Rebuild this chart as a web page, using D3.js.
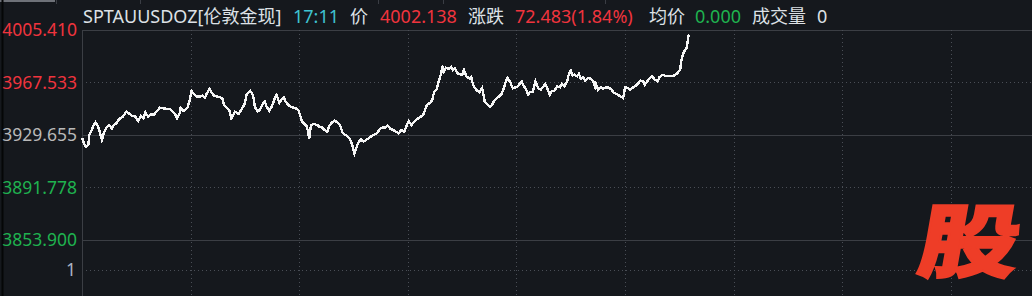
<!DOCTYPE html>
<html lang="zh">
<head>
    <meta charset="UTF-8">
    <title>SPTAUUSDOZ 伦敦金现 分时图</title>
    <script src="https://d3js.org/d3.v7.min.js"></script>
    <style>
        html, body { margin: 0; padding: 0; background: #15181d; overflow: hidden; }
        svg { display: block; font-family: "Noto Sans", "Noto Sans CJK SC", sans-serif; }
        .grid-solid { stroke: #3b3e44; stroke-width: 1; shape-rendering: crispEdges; }
        .grid-dot { stroke: #4a4e56; stroke-width: 1; stroke-dasharray: 1,3; shape-rendering: crispEdges; }
        .axis path, .axis line { display: none; }
        .price-line { fill: none; stroke: #f6f6f6; stroke-width: 2.4; shape-rendering: crispEdges; }
    </style>
</head>
<body>
<svg width="1032" height="296"></svg>
<script>
// minutes after 06:00
const minutes = [
    0,2,4,7,8,11,12,15,17,19,
    22,24,27,30,33,35,38,41,45,49,
    51,55,59,62,65,68,70,73,76,79,
    83,86,90,94,97,100,103,105,108,109,
    112,115,117,119,121,124,127,130,133,136,
    138,141,143,146,150,152,155,157,160,163,
    165,167,169,173,177,180,182,186,189,191,
    194,197,200,202,204,207,210,213,215,218,
    220,223,225,228,232,236,239,241,243,245,
    248,250,251,253,256,260,262,265,268,271,
    273,276,279,283,285,288,291,294,296,298,
    301,303,305,308,311,315,319,322,326,329,
    332,335,338,341,344,348,350,353,356,359,
    361,364,367,370,373,377,379,381,385,387,
    389,392,394,397,398,400,402,405,408,410,
    412,415,418,420,422,425,428,430,431,433,
    436,439,442,443,445,448,451,453,456,459,
    462,464,466,468,470,473,476,478,481,484,
    486,488,490,493,495,498,500,501,504,507,
    509,512,514,517,519,522,525,528,530,533,
    536,538,540,542,544,547,549,551,554,556,
    559,562,565,567,568,570,573,576,579,582,
    585,588,592,595,598,599,600,603,606,609,
    611,614,617,620,622,625,627,630,633,636,
    638,641,644,648,651,655,658,661,662,664,
    666,668,669,670,671
];

const prices = [
    3927.71,3923.88,3921.21,3922.44,3929.66,3933.26,3935.64,3938.82,3936.87,3933.26,
    3926.05,3930.88,3934.92,3936.87,3934.49,3936.87,3938.10,3941.20,3942.86,3946.47,
    3945.74,3943.58,3942.86,3939.76,3943.58,3941.70,3946.03,3942.86,3944.59,3944.09,
    3946.97,3949.35,3948.92,3948.41,3948.41,3946.47,3944.59,3941.70,3945.31,3949.35,
    3946.97,3948.41,3950.07,3954.91,3961.40,3959.02,3957.29,3957.29,3958.01,3956.57,
    3959.74,3962.84,3960.46,3958.01,3957.29,3957.10,3956.13,3951.30,3949.35,3946.97,
    3941.70,3944.09,3946.47,3944.81,3948.92,3952.53,3959.24,3961.40,3958.51,3950.07,
    3946.47,3948.20,3952.53,3953.68,3950.07,3947.19,3950.58,3956.13,3958.51,3952.96,
    3954.91,3956.86,3953.68,3951.30,3949.64,3948.92,3947.69,3944.09,3939.25,3938.10,
    3936.15,3932.04,3926.55,3936.87,3937.59,3936.87,3935.64,3935.21,3933.26,3932.04,
    3936.15,3938.53,3939.97,3938.53,3936.87,3931.31,3929.66,3928.43,3926.55,3923.67,
    3916.45,3920.06,3923.67,3926.55,3924.82,3926.55,3928.43,3929.66,3930.88,3933.77,
    3935.21,3934.92,3936.37,3933.98,3933.26,3931.60,3930.88,3933.26,3932.04,3936.87,
    3939.76,3936.87,3939.25,3941.20,3942.14,3944.09,3947.69,3951.30,3952.96,3954.91,
    3960.46,3962.84,3968.11,3974.17,3979.65,3975.33,3978.21,3977.27,3978.93,3976.55,
    3977.78,3974.17,3973.45,3972.94,3976.55,3971.72,3970.56,3971.72,3968.61,3964.50,
    3962.12,3960.46,3963.35,3960.90,3953.68,3951.80,3950.07,3951.30,3954.91,3956.57,
    3958.01,3959.74,3963.35,3967.68,3971.00,3968.11,3963.35,3963.78,3964.50,3966.96,
    3968.11,3965.22,3963.35,3959.02,3960.46,3960.90,3965.73,3968.61,3963.35,3962.34,
    3964.07,3966.45,3963.57,3958.73,3961.18,3961.62,3964.79,3964.07,3966.45,3964.79,
    3968.40,3973.67,3976.05,3972.73,3973.16,3972.01,3973.67,3970.27,3971.28,3968.83,
    3970.78,3970.27,3968.40,3964.07,3966.45,3962.34,3964.07,3963.06,3964.07,3963.90,
    3962.34,3959.96,3958.73,3957.58,3956.35,3959.96,3964.07,3963.57,3962.34,3964.07,
    3964.79,3966.45,3968.83,3968.40,3965.95,3968.83,3970.27,3972.01,3969.55,3968.40,
    3971.28,3973.16,3972.44,3972.01,3972.20,3972.73,3974.39,3976.77,3982.83,3988.10,
    3990.48,3992.42,3996.03,4000.87,4002.138
];

const priceTicks = [4005.410, 3967.533, 3929.655, 3891.778, 3853.900];
const prevClose = 3929.655;
const volumeTicks = [1];
const timeTicks = [120, 240, 360, 480, 600, 720, 840, 960];

const symbol = 'SPTAUUSDOZ[伦敦金现]';
const lastTime = '17:11';
const lastPrice = 4002.138;
const change = 72.483;
const changePct = 1.84;
const avgPrice = 0.000;
const volume = 0;

const W = 1032, H = 296;
const plotLeft = 82, plotTop = 30, priceBottom = 240;

const svg = d3.select('svg');

// session 06:00 -> 05:00 next day, window only shows part of it
const x = d3.scaleLinear().domain([0, 1380]).range([plotLeft, plotLeft + 1380 * 108.6 / 120]);
const y = d3.scaleLinear().domain([3853.900, 4005.410]).range([priceBottom, plotTop]);
const yVol = d3.scaleLinear().domain([0, 1]).range([300, 270]);

// tab strip remnants at the very top
svg.append('rect').attr('x', 0).attr('y', 0).attr('width', 55).attr('height', 2).attr('fill', '#6e7178');
[56, 140, 378, 443, 605].forEach(px => {
    svg.append('rect').attr('x', px).attr('y', 0).attr('width', 1).attr('height', 4).attr('fill', '#3a3d44');
});
svg.append('line').attr('x1', 2.5).attr('x2', 2.5).attr('y1', 0).attr('y2', H)
    .attr('stroke', '#050607').attr('stroke-width', 2);

// horizontal grid
const solidTicks = [4005.410, prevClose, 3853.900];
svg.append('g').selectAll('line')
    .data(priceTicks)
    .enter().append('line')
    .attr('class', d => solidTicks.includes(d) ? 'grid-solid' : 'grid-dot')
    .attr('x1', plotLeft).attr('x2', W)
    .attr('y1', d => Math.round(y(d)) + 0.5)
    .attr('y2', d => Math.round(y(d)) + 0.5);

svg.append('g').selectAll('line')
    .data(volumeTicks)
    .enter().append('line')
    .attr('class', 'grid-dot')
    .attr('x1', plotLeft).attr('x2', W)
    .attr('y1', d => Math.round(yVol(d)) + 0.5)
    .attr('y2', d => Math.round(yVol(d)) + 0.5);

// vertical grid
svg.append('g').selectAll('line')
    .data(timeTicks.filter(t => x(t) < W))
    .enter().append('line')
    .attr('class', 'grid-dot')
    .attr('x1', d => Math.round(x(d)) + 0.5).attr('x2', d => Math.round(x(d)) + 0.5)
    .attr('y1', plotTop).attr('y2', H);

svg.append('line').attr('class', 'grid-solid')
    .attr('x1', plotLeft + 0.5).attr('x2', plotLeft + 0.5).attr('y1', plotTop).attr('y2', H);

// price axis labels
const priceColor = d => d > prevClose + 1e-6 ? '#f0343d' : (d < prevClose - 1e-6 ? '#1fb24f' : '#b9b9b9');
const yAxis = svg.append('g')
    .attr('class', 'axis')
    .attr('transform', `translate(${plotLeft},0)`)
    .call(d3.axisLeft(y).tickValues(priceTicks).tickFormat(d3.format('.3f')).tickSize(0).tickPadding(5));
yAxis.selectAll('text')
    .attr('fill', d => priceColor(d))
    .style('font-size', '17.5px')
    .style('font-family', '"Noto Sans", sans-serif');

const vAxis = svg.append('g')
    .attr('class', 'axis')
    .attr('transform', `translate(${plotLeft},0)`)
    .call(d3.axisLeft(yVol).tickValues(volumeTicks).tickFormat(d3.format('d')).tickSize(0).tickPadding(6));
vAxis.selectAll('text')
    .attr('fill', '#aab2c2')
    .style('font-size', '17.5px')
    .style('font-family', '"Noto Sans", sans-serif');

// intraday price line
const line = d3.line()
    .x(i => x(minutes[i]))
    .y(i => y(prices[i]));

svg.append('path')
    .attr('class', 'price-line')
    .attr('d', line(d3.range(minutes.length)));

// header
const headerItems = [
    { text: symbol, color: '#dde1e6', x: 83 },
    { text: lastTime, color: '#3fc3d1', x: 293 },
    { text: '价', color: '#dde1e6', x: 350 },
    { text: d3.format('.3f')(lastPrice), color: '#f0343d', x: 380 },
    { text: '涨跌', color: '#dde1e6', x: 468 },
    { text: `${d3.format('.3f')(change)}(${d3.format('.2f')(changePct)}%)`, color: '#f0343d', x: 515 },
    { text: '均价', color: '#dde1e6', x: 649 },
    { text: d3.format('.3f')(avgPrice), color: '#1fb24f', x: 695 },
    { text: '成交量', color: '#dde1e6', x: 752 },
    { text: String(volume), color: '#dde1e6', x: 817 }
];

svg.append('g').selectAll('text')
    .data(headerItems)
    .enter().append('text')
    .attr('x', d => d.x)
    .attr('y', 22.5)
    .attr('fill', d => d.color)
    .style('font-size', '18px')
    .text(d => d.text);

// watermark
svg.append('text')
    .attr('transform', 'translate(965,271) skewX(-10) scale(1.25,1)')
    .attr('text-anchor', 'middle')
    .attr('fill', '#ee3d27')
    .attr('stroke', '#ee3d27')
    .attr('stroke-width', 2)
    .style('font-family', '"Noto Sans CJK SC", sans-serif')
    .style('font-weight', 900)
    .style('font-size', '80px')
    .text('股');
</script>
</body>
</html>
